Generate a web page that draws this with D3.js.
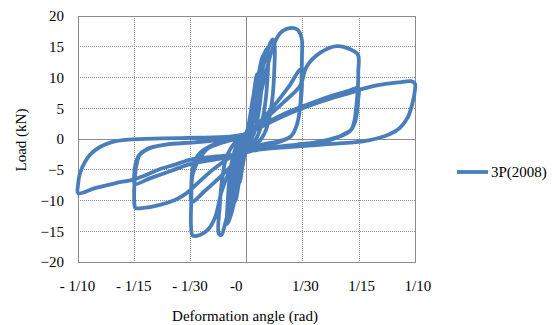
<!DOCTYPE html>
<html><head><meta charset="utf-8">
<script src="https://cdn.jsdelivr.net/npm/d3@7"></script>
<style>
html,body{margin:0;padding:0;background:#fff;}
svg{display:block;}
text{font-family:"Liberation Serif","DejaVu Serif","Times New Roman",serif;fill:#000;}
</style></head>
<body>
<svg id="chart" width="560" height="325"></svg>
<script>
// ---- data ----
const xTicks = [-0.1, -1/15, -1/30, 0, 1/30, 1/15, 0.1];
const xTickLabels = ["- 1/10", "- 1/15", "- 1/30", "-0", "1/30", "1/15", "1/10"];
const yTicks = [-20, -15, -10, -5, 0, 5, 10, 15, 20];
const seriesName = "3P(2008)";
// deformation angle (rad) and load (kN), in loading order
const deform = [
 0,
 0.0015,0.0025,0.0018,0.0005,-0.0012,-0.0025,-0.0018,-0.0004,
 0.0015,0.0040,0.0032,0.0012,-0.0010,-0.0040,-0.0032,-0.0010,
 0.0015,0.0040,0.0060,0.0055,0.0035,0.0010,-0.0015,-0.0045,-0.0065,-0.0058,-0.0035,-0.0010,
 0.0020,0.0060,0.0090,0.0098,0.0095,0.0075,0.0045,0.0010,-0.0015,-0.0050,-0.0080,-0.0092,-0.0088,-0.0065,-0.0035,0,
 0.0025,0.0065,0.0100,0.0118,0.0126,0.0124,0.0100,0.0060,0.0020,-0.0015,-0.0055,-0.0095,-0.0115,-0.0112,-0.0090,-0.0050,0,
 0.0025,0.0070,0.0110,0.0140,0.0155,0.0165,0.0165,0.0150,0.0115,0.0070,0.0020,-0.0010,-0.0050,-0.0085,-0.0125,-0.0150,-0.0165,-0.0160,-0.0145,-0.0120,-0.0070,-0.0010,
 0.0020,0.0069,0.0119,0.0158,0.0198,0.0247,0.0300,0.0326,0.0328,0.0326,0.0318,0.0300,0.0265,0.0200,0.0110,0.0030,
 -0.0040,-0.0099,-0.0148,-0.0188,-0.0228,-0.0277,-0.0320,-0.0330,-0.0328,-0.0320,-0.0277,-0.0228,-0.0150,-0.0060,0,
 0.0050,0.0150,0.0250,0.0320,0.0328,0.0318,0.0300,0.0265,0.0180,0.0080,0.0010,-0.0060,-0.0150,-0.0250,-0.0325,-0.0328,-0.0318,-0.0285,-0.0220,-0.0120,-0.0020,
 0.0040,0.0120,0.0220,0.0316,0.0356,0.0435,0.0534,0.0613,0.0660,0.0662,0.0660,0.0650,0.0640,0.0620,0.0570,0.0480,0.0300,0.0120,0.0010,
 -0.0030,-0.0188,-0.0366,-0.0425,-0.0514,-0.0610,-0.0660,-0.0665,-0.0667,-0.0663,-0.0653,-0.0633,-0.0574,-0.0475,-0.0326,-0.0150,-0.0020,
 0.0060,0.0200,0.0350,0.0500,0.0613,0.0662,0.0662,0.0655,0.0640,0.0610,0.0540,0.0400,0.0200,0.0020,
 -0.0060,-0.0200,-0.0326,-0.0450,-0.0574,-0.0663,-0.0667,-0.0660,-0.0640,-0.0590,-0.0480,-0.0300,-0.0120,-0.0010,
 0.0060,0.0200,0.0350,0.0500,0.0613,0.0680,0.0750,0.0808,0.0900,0.0975,0.0998,0.0998,0.0985,0.0955,0.0909,0.0850,0.0730,0.0613,0.0450,0.0250,0.0080,0,
 -0.0080,-0.0200,-0.0326,-0.0430,-0.0524,-0.0600,-0.0673,-0.0781,-0.0900,-0.0999,-0.1000,-0.0985,-0.0929,-0.0870,-0.0800,-0.0700,-0.0500,-0.0300,-0.0100,0
];
const load = [
 0,
 2.5,4.5,2.0,-0.3,-2.5,-4.5,-2.0,0.3,
 2.8,7.0,3.5,0.2,-2.0,-7.0,-3.5,0.2,
 2.5,7.0,10.5,7.0,2.5,-0.5,-2.5,-7.0,-10.0,-6.5,-1.8,0.5,
 2.5,9.0,13.0,13.6,11.0,5.0,1.0,-0.8,-2.5,-7.0,-11.0,-12.2,-9.0,-3.5,-0.3,0.8,
 2.5,8.5,13.5,14.6,14.0,10.0,4.0,0.2,-1.0,-2.8,-7.5,-12.5,-13.8,-10.0,-4.0,-0.5,0.9,
 2.5,8.5,13.0,15.6,16.2,15.5,12.0,6.0,1.5,-0.5,-1.2,-2.5,-5.5,-9.0,-13.5,-15.6,-15.4,-11.0,-6.5,-3.0,-0.6,0.6,
 1.5,5.9,11.3,15.1,17.2,18.0,17.8,16.4,13.5,10.5,5.5,2.5,0.5,-0.3,-0.8,-1.3,
 -1.7,-5.0,-8.5,-12.8,-14.7,-15.6,-15.7,-14.0,-10.0,-5.8,-3.1,-1.5,-0.65,0.2,1.0,
 2.0,5.0,8.5,11.3,9.0,5.5,2.5,0.5,-0.6,-1.1,-1.6,-3.5,-6.0,-8.5,-10.2,-7.5,-4.5,-2.5,-1.2,-0.4,0.4,
 1.5,3.5,6.0,8.6,11.8,14.0,15.1,14.6,13.7,11.0,8.6,5.3,3.1,1.5,0.7,-0.3,-0.9,-1.5,-2.0,
 -2.0,-4.7,-9.0,-9.9,-10.7,-11.2,-11.2,-10.7,-8.5,-6.3,-4.2,-2.55,-1.5,-0.9,-0.6,-0.1,0.5,
 1.8,3.8,5.5,7.0,7.9,8.3,6.5,4.5,2.5,1.2,0.3,-0.6,-1.3,-2.0,
 -2.7,-3.4,-4.0,-5.2,-6.4,-7.3,-6.0,-4.2,-2.7,-1.6,-0.9,-0.5,0.0,0.6,
 1.6,3.5,5.2,6.6,7.5,8.1,8.6,8.9,9.2,9.4,9.0,8.0,6.0,3.5,1.8,0.8,-0.2,-0.6,-0.9,-1.3,-1.7,-2.1,
 -2.6,-2.9,-3.3,-4.2,-5.0,-5.9,-6.6,-7.2,-8.0,-8.8,-7.5,-5.3,-2.55,-1.3,-0.5,-0.1,0.1,0.2,0.4,0.8
];

// ---- layout ----
const FONT = '"Liberation Serif", "DejaVu Serif", serif';
const svg = d3.select("#chart");
const m = {left:78, right:415.3, top:16, bottom:262};
const x = d3.scaleLinear().domain([-0.1, 0.1]).range([m.left, m.right]);
const y = d3.scaleLinear().domain([-20, 20]).range([m.bottom, m.top]);
const gridColor = "#8c8c8c";

// grid lines
svg.append("g").selectAll("line").data(yTicks.filter(d => d !== 0 && Math.abs(d) !== 20)).join("line")
  .attr("x1", m.left).attr("x2", m.right).attr("y1", d => y(d)).attr("y2", d => y(d))
  .attr("stroke", gridColor).attr("stroke-width", 1).attr("stroke-dasharray", "1,1").attr("shape-rendering","crispEdges");
svg.append("g").selectAll("line").data(xTicks.filter(d => Math.abs(d) > 1e-9 && Math.abs(d) < 0.099)).join("line")
  .attr("x1", d => x(d)).attr("x2", d => x(d)).attr("y1", m.top).attr("y2", m.bottom)
  .attr("stroke", gridColor).attr("stroke-width", 1).attr("stroke-dasharray", "1,1").attr("shape-rendering","crispEdges");
// zero axes
svg.append("line").attr("x1", m.left).attr("x2", m.right).attr("y1", y(0)).attr("y2", y(0))
  .attr("stroke", gridColor).attr("stroke-width", 1).attr("shape-rendering","crispEdges");
svg.append("line").attr("x1", x(0)).attr("x2", x(0)).attr("y1", m.top).attr("y2", m.bottom)
  .attr("stroke", gridColor).attr("stroke-width", 1).attr("shape-rendering","crispEdges");
// plot border
svg.append("rect").attr("x", m.left).attr("y", m.top).attr("width", m.right - m.left).attr("height", m.bottom - m.top)
  .attr("fill", "none").attr("stroke", gridColor).attr("stroke-width", 1).attr("shape-rendering","crispEdges");

// axes labels via d3 axes
const yAxis = d3.axisLeft(y).tickValues(yTicks).tickSize(0).tickPadding(14).tickFormat(d3.format("d"));
const gy = svg.append("g").attr("transform", `translate(${m.left},0)`).call(yAxis)
  .attr("font-family", FONT).attr("font-size", 15);
gy.select(".domain").remove();
gy.selectAll("text").style("font-family", FONT).style("font-size", "15px").attr("fill", "#000");

const xAxis = d3.axisBottom(x).tickValues(xTicks).tickSize(0).tickPadding(18)
  .tickFormat((d, i) => xTickLabels[i]);
const gx = svg.append("g").attr("transform", `translate(0,${m.bottom})`).call(xAxis)
  .attr("font-family", FONT).attr("font-size", 15);
gx.select(".domain").remove();
gx.selectAll("text").style("font-family", FONT).style("font-size", "15px").attr("fill", "#000")
  .attr("dx", (d, i) => (xTickLabels[i] === "-0" ? -11 : (d > 0 ? 2 : -1)));

// data line
const pts = deform.map((d, i) => [d, load[i]]);
const line = d3.line().x(d => x(d[0])).y(d => y(d[1])).curve(d3.curveCatmullRom.alpha(0.5));
svg.append("path").attr("d", line(pts)).attr("fill", "none")
  .attr("stroke", "#4a7ebb").attr("stroke-width", 3.8).attr("stroke-linejoin", "round").attr("stroke-linecap", "round");

// axis titles
svg.append("text").attr("x", 245).attr("y", 321).attr("text-anchor", "middle")
  .style("font-family", FONT).style("font-size", "15px").text("Deformation angle (rad)");
svg.append("text").attr("transform", "translate(26,140) rotate(-90)").attr("text-anchor", "middle")
  .style("font-family", FONT).style("font-size", "15px").text("Load (kN)");

// legend
svg.append("line").attr("x1", 457).attr("x2", 488).attr("y1", 172).attr("y2", 172)
  .attr("stroke", "#4a7ebb").attr("stroke-width", 3.8);
svg.append("text").attr("x", 491).attr("y", 177).style("font-family", FONT).style("font-size", "15px").text(seriesName);
</script>
</body></html>
